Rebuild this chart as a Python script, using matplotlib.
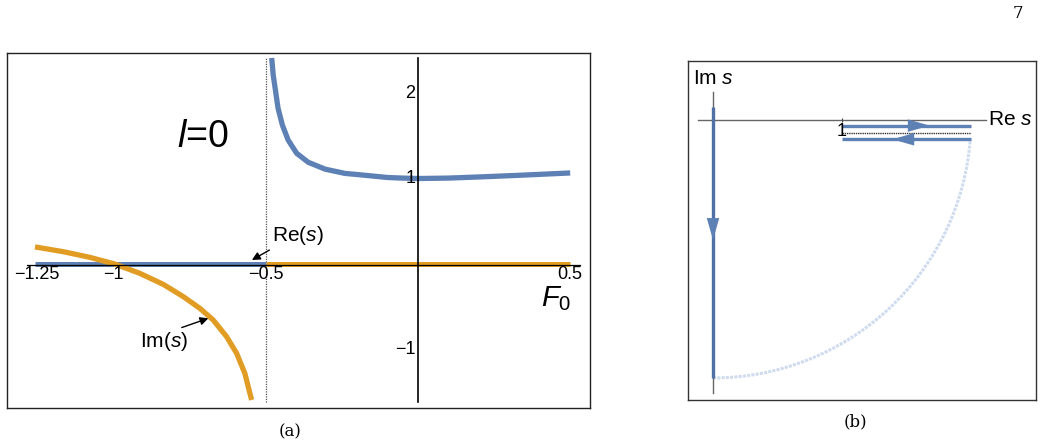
import matplotlib
matplotlib.use('Agg')
import matplotlib.pyplot as plt
from matplotlib.patches import Arc

plt.rcParams['font.family'] = ['Liberation Sans', 'DejaVu Sans']
plt.rcParams['mathtext.fontset'] = 'custom'
plt.rcParams['mathtext.rm'] = 'Liberation Sans'
plt.rcParams['mathtext.it'] = 'Liberation Sans:italic'

BLUE = '#5e81b5'
ORANGE = '#e19c24'

# (a) Re(s) branch for F0 > -0.5
f_re = [-0.480, -0.475, -0.467, -0.459, -0.445, -0.426, -0.398, -0.360, -0.305, -0.240,
        -0.180, -0.100, -0.059, 0.0, 0.1, 0.213, 0.335, 0.5]
re_s = [2.41, 2.21, 2.015, 1.82, 1.626, 1.45, 1.295, 1.19, 1.11, 1.06,
        1.04, 1.012, 1.006, 1.0, 1.005, 1.02, 1.038, 1.065]
# Im(s) branch for F0 < -0.5
f_im = [-1.257, -1.164, -1.077, -0.995, -0.913, -0.836, -0.770, -0.716, -0.672, -0.628,
        -0.595, -0.568, -0.546]
im_s = [0.20, 0.144, 0.078, 0.0, -0.109, -0.238, -0.382, -0.518, -0.655, -0.85,
        -1.045, -1.28, -1.59]
# zero segments: Re(s)=0 below -0.5, Im(s)=0 above -0.5
re_zero_f = [-1.257, -0.5]
im_zero_f = [-0.5, 0.5]
pole_f = -0.5
xticks_a = [-1.25, -1, -0.5, 0.5]
xtick_labels_a = ['\u22121.25', '\u22121', '\u22120.5', '0.5']
yticks_a = [2, 1, -1]
ytick_labels_a = ['2', '1', '\u22121']

# (b) contour in the s plane
contour_re = [1.0, 2.0]        # Re range of the two horizontal legs
upper_im = -0.044
lower_im = -0.15
cut_im = -0.098
vert_im = [0.10, -2.0]        # vertical leg on the imaginary axis
arc_radius = 2.0

fig = plt.figure(figsize=(10.43, 4.47), dpi=100)

# ---------------- panel (a)
ax = fig.add_axes([7 / 1043, 1 - 408 / 447, 583 / 1043, 355 / 447])
ax.set_xlim(-1.349, 0.565)
ax.set_ylim(-1.684, 2.468)
ax.set_xticks([])
ax.set_yticks([])
for s in ax.spines.values():
    s.set_linewidth(1.0)
    s.set_color('#222222')

ax.plot([-1.284, 0.532], [-0.012, -0.012], color='black', lw=0.9, zorder=4)
ax.plot([0, 0], [-1.61, 2.41], color='black', lw=1.2, zorder=4)
ax.plot([pole_f, pole_f], [-1.61, 2.41], color='#555555', lw=0.9, ls=(0, (1, 1)), zorder=1)

ax.plot(re_zero_f, [0, 0], color=BLUE, lw=3.6, solid_capstyle='butt', zorder=3)
ax.plot(im_zero_f, [0, 0], color=ORANGE, lw=3.6, solid_capstyle='butt', zorder=3)
ax.plot(f_re, re_s, color=BLUE, lw=3.8, solid_capstyle='butt', solid_joinstyle='round', zorder=3)
ax.plot(f_im, im_s, color=ORANGE, lw=3.8, solid_capstyle='butt', solid_joinstyle='round', zorder=3)

for t, lab in zip(xticks_a, xtick_labels_a):
    ax.text(t, -0.025, lab, ha='center', va='top', fontsize=13, zorder=5)
for t, lab in zip(yticks_a, ytick_labels_a):
    ax.text(-0.008, t, lab, ha='right', va='center', fontsize=13, zorder=5)

ax.text(-0.706, 1.485, r'$l$=0', ha='center', va='center', fontsize=27)
ax.text(0.453, -0.41, r'$F_0$', ha='center', va='center', fontsize=21)

ax.annotate(r'$\mathrm{Re(}s\mathrm{)}$', xy=(-0.545, 0.047), xytext=(-0.395, 0.33),
            ha='center', va='center', fontsize=15, zorder=6,
            arrowprops=dict(arrowstyle='-|>', color='black', lw=1.0,
                            mutation_scale=12, shrinkA=0, shrinkB=0,
                            relpos=(0.05, 0.0)))
ax.annotate(r'$\mathrm{Im(}s\mathrm{)}$', xy=(-0.688, -0.635), xytext=(-0.834, -0.91),
            ha='center', va='center', fontsize=15, zorder=6,
            arrowprops=dict(arrowstyle='-|>', color='black', lw=1.0,
                            mutation_scale=12, shrinkA=0, shrinkB=0,
                            relpos=(0.5, 0.85)))

# ---------------- panel (b)
bx = fig.add_axes([688 / 1043, 1 - 400 / 447, 348 / 1043, 339 / 447])
bx.set_xlim(-0.194, 2.504)
bx.set_ylim(-2.171, 0.457)
bx.set_xticks([])
bx.set_yticks([])
for s in bx.spines.values():
    s.set_linewidth(1.0)
    s.set_color('#333333')

bx.plot([-0.116, 2.116], [0, 0], color='#666666', lw=1.0, zorder=2)
bx.plot([0, 0], [0.217, -2.116], color='#666666', lw=1.0, zorder=2)
bx.plot([contour_re[0]], [0], marker='|', ms=3, color='#444444', mew=0.8, zorder=2)

bx.plot([0, 0], vert_im, color='#4f71a6', lw=2.4, solid_capstyle='butt', zorder=3)
bx.plot(contour_re, [upper_im, upper_im], color=BLUE, lw=2.4, solid_capstyle='butt', zorder=3)
bx.plot(contour_re, [lower_im, lower_im], color=BLUE, lw=2.4, solid_capstyle='butt', zorder=3)
bx.plot(contour_re, [cut_im, cut_im], color='#333333', lw=1.0, ls=(0, (1, 0.6)), zorder=3)

arc = Arc((0, 0), 2 * arc_radius, 2 * arc_radius, theta1=270, theta2=360 - 4.3,
          color='#cfdbee', lw=2.2, ls=(0, (1.0, 0.4)), zorder=1)
bx.add_patch(arc)

head = dict(arrowstyle='-|>,head_length=1.05,head_width=0.3', color=BLUE, lw=0,
            mutation_scale=15, shrinkA=0, shrinkB=0)
bx.annotate('', xy=(1.68, upper_im), xytext=(1.50, upper_im), arrowprops=head, zorder=4)
bx.annotate('', xy=(1.39, lower_im), xytext=(1.57, lower_im), arrowprops=head, zorder=4)
bx.annotate('', xy=(0, -0.93), xytext=(0, -0.75), arrowprops=head, zorder=4)

bx.text(contour_re[0], -0.093, '1', ha='center', va='center', fontsize=13, zorder=5)
bx.text(2.13, 0, r'$\mathrm{Re}\ s$', ha='left', va='center', fontsize=15)
bx.text(0, 0.318, r'$\mathrm{Im}\ s$', ha='center', va='center', fontsize=15)

# captions and page number
fig.text(290 / 1043, 1 - 432 / 447, '(a)', ha='center', va='center',
         fontsize=12, family='DejaVu Serif')
fig.text(855 / 1043, 1 - 422 / 447, '(b)', ha='center', va='center',
         fontsize=12, family='DejaVu Serif')
fig.text(1018 / 1043, 1 - 14 / 447, '7', ha='center', va='center',
         fontsize=12, family='DejaVu Serif')

fig.savefig('out.png', dpi=100)
